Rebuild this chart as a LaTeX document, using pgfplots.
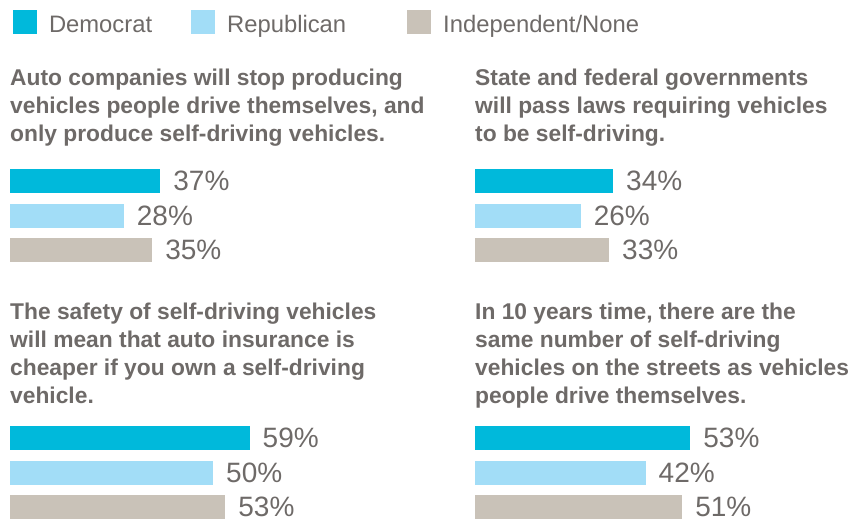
\documentclass[border=0pt]{standalone}
\usepackage{pgfplots}
\pgfplotsset{compat=1.18}
\usepackage{fontspec}
\setmainfont{Liberation Sans}
\definecolor{dem}{HTML}{00B9DB}
\definecolor{rep}{HTML}{A2DDF7}
\definecolor{ind}{HTML}{C9C2B8}
\definecolor{txt}{HTML}{6E6A68}
\pgfplotsset{
  panel/.style={
    xbar, bar width=24pt, bar shift=0pt,
    x=4.06pt, y=34.5pt,
    xmin=0, xmax=70, ymin=-0.5, ymax=2.5,
    y dir=reverse, hide axis, clip=false,
    point meta=x,
    /pgf/number format/assume math mode=true,
    nodes near coords={\pgfmathprintnumber{\pgfplotspointmeta}\%},
    nodes near coords style={anchor=west, xshift=13pt, inner sep=0pt, text=txt,
      font=\fontsize{28}{32}\selectfont},
    anchor=north west,
  },
}
\begin{document}
\begin{tikzpicture}
\path[use as bounding box] (0pt,0pt) rectangle (852pt,523pt);
\tikzset{ttl/.style={anchor=base west, inner sep=0pt, text=txt, font=\fontsize{22.8}{28}\selectfont\bfseries}}
% titles
\node[ttl] at (10pt,437pt) {Auto companies will stop producing};
\node[ttl] at (10pt,409pt) {vehicles people drive themselves, and};
\node[ttl] at (10pt,381pt) {only produce self-driving vehicles.};
\node[ttl] at (475pt,437pt) {State and federal governments};
\node[ttl] at (475pt,409pt) {will pass laws requiring vehicles};
\node[ttl] at (475pt,381pt) {to be self-driving.};
\node[ttl] at (10pt,204pt) {The safety of self-driving vehicles};
\node[ttl] at (10pt,176pt) {will mean that auto insurance is};
\node[ttl] at (10pt,148pt) {cheaper if you own a self-driving};
\node[ttl] at (10pt,120pt) {vehicle.};
\node[ttl] at (475pt,204pt) {In 10 years time, there are the};
\node[ttl] at (475pt,176pt) {same number of self-driving};
\node[ttl] at (475pt,148pt) {vehicles on the streets as vehicles};
\node[ttl] at (475pt,120pt) {people drive themselves.};

\begin{axis}[panel, at={(10pt,359.25pt)},
  legend style={at={(axis description cs:0.01056,2.4855)}, anchor=north west, draw=none, fill=none,
    legend columns=3, text=txt, font=\fontsize{23.8}{28}\selectfont,
    inner sep=0pt, outer sep=0pt, nodes={inner sep=0pt},
    /tikz/every odd column/.append style={column sep=12pt},
    /tikz/column 2/.append style={column sep=39pt},
    /tikz/column 4/.append style={column sep=61pt}}]
\addplot[fill=dem, draw=none, legend image code/.code={\fill[dem] (0pt,-9pt) rectangle (24pt,15pt);}] coordinates {(37,0)};
\addlegendentry{Democrat}
\addplot[fill=rep, draw=none, legend image code/.code={\fill[rep] (0pt,-9pt) rectangle (24pt,15pt);}] coordinates {(28,1)};
\addlegendentry{Republican}
\addplot[fill=ind, draw=none, legend image code/.code={\fill[ind] (0pt,-9pt) rectangle (24pt,15pt);}] coordinates {(35,2)};
\addlegendentry{Independent/None}
\end{axis}

\begin{axis}[panel, at={(475pt,359.25pt)}]
\addplot[fill=dem, draw=none] coordinates {(34,0)};
\addplot[fill=rep, draw=none] coordinates {(26,1)};
\addplot[fill=ind, draw=none] coordinates {(33,2)};
\end{axis}

\begin{axis}[panel, at={(10pt,102.25pt)}]
\addplot[fill=dem, draw=none] coordinates {(59,0)};
\addplot[fill=rep, draw=none] coordinates {(50,1)};
\addplot[fill=ind, draw=none] coordinates {(53,2)};
\end{axis}

\begin{axis}[panel, at={(475pt,102.25pt)}]
\addplot[fill=dem, draw=none] coordinates {(53,0)};
\addplot[fill=rep, draw=none] coordinates {(42,1)};
\addplot[fill=ind, draw=none] coordinates {(51,2)};
\end{axis}
\end{tikzpicture}
\end{document}
